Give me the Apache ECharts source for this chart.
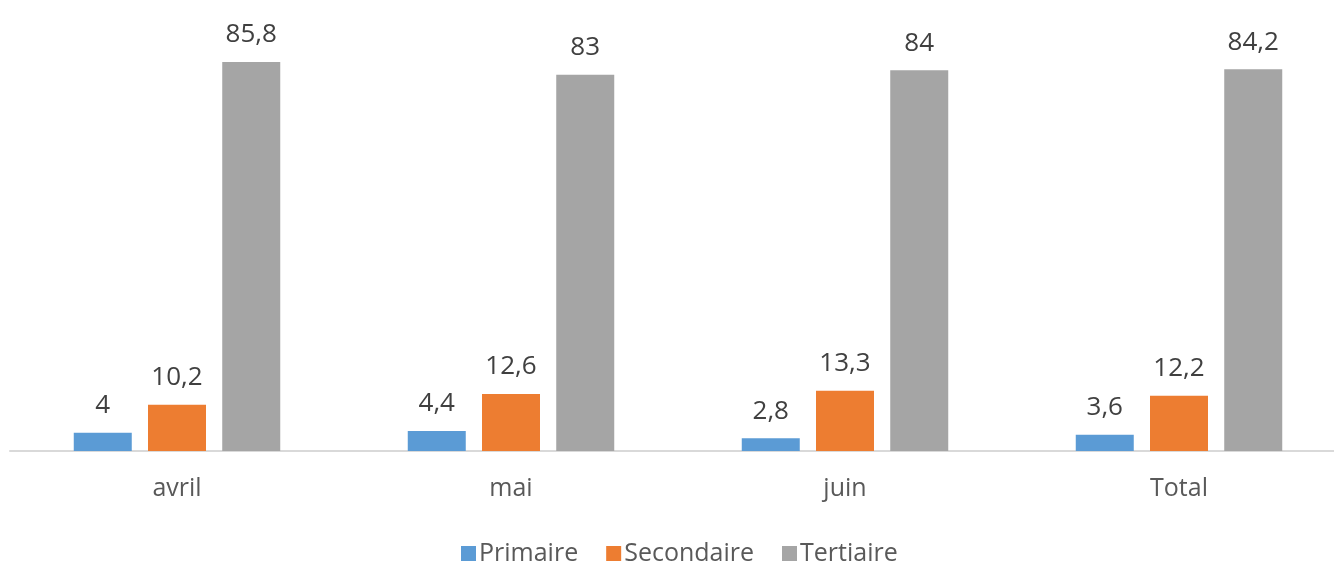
<!DOCTYPE html>
<html>
<head>
<meta charset="utf-8">
<script src="https://cdn.jsdelivr.net/npm/echarts@6/dist/echarts.min.js"></script>
<style>
  html, body { margin: 0; padding: 0; background: #fff; }
  #chart { width: 1334px; height: 561px; }
</style>
</head>
<body>
<div id="chart"></div>
<script>
var categories = ['avril', 'mai', 'juin', 'Total'];
var primaire = [4, 4.4, 2.8, 3.6];
var secondaire = [10.2, 12.6, 13.3, 12.2];
var tertiaire = [85.8, 83, 84, 84.2];

var FONT = '"Open Sans", "DejaVu Sans", sans-serif';

function fmt(v) {
    // virgule décimale
    return String(v).replace('.', ',');
}

function makeSeries(name, data, color) {
    return {
        name: name,
        type: 'bar',
        data: data,
        barWidth: 58,
        barGap: '28%',
        itemStyle: { color: color },
        label: {
            show: true,
            position: 'top',
            distance: 14,
            color: '#404040',
            fontFamily: FONT,
            fontSize: 26,
            formatter: function (p) { return fmt(p.value); }
        }
    };
}

var myChart = echarts.init(document.getElementById('chart'));
var option = {
    animation: false,
    textStyle: { fontFamily: FONT },
    grid: {
        left: 10,
        right: -12,
        top: 43,
        bottom: 110,
        outerBoundsMode: 'none',
        containLabel: false
    },
    legend: {
        bottom: -10,
        left: 456,
        itemWidth: 15,
        itemHeight: 15,
        itemGap: 28,
        icon: 'rect',
        textStyle: { color: '#595959', fontSize: 25, fontFamily: FONT, padding: [0, 0, 0, -2] },
        data: ['Primaire', 'Secondaire', 'Tertiaire']
    },
    xAxis: {
        type: 'category',
        data: categories,
        axisLine: { lineStyle: { color: '#d9d9d9', width: 2 } },
        axisTick: { show: false },
        axisLabel: { color: '#595959', fontSize: 25, fontFamily: FONT, margin: 25 }
    },
    yAxis: {
        type: 'value',
        min: 0,
        max: 90,
        show: false,
        splitLine: { show: false }
    },
    series: [
        makeSeries('Primaire', primaire, '#5b9bd5'),
        makeSeries('Secondaire', secondaire, '#ed7d31'),
        makeSeries('Tertiaire', tertiaire, '#a5a5a5')
    ]
};
myChart.setOption(option);
</script>
</body>
</html>
